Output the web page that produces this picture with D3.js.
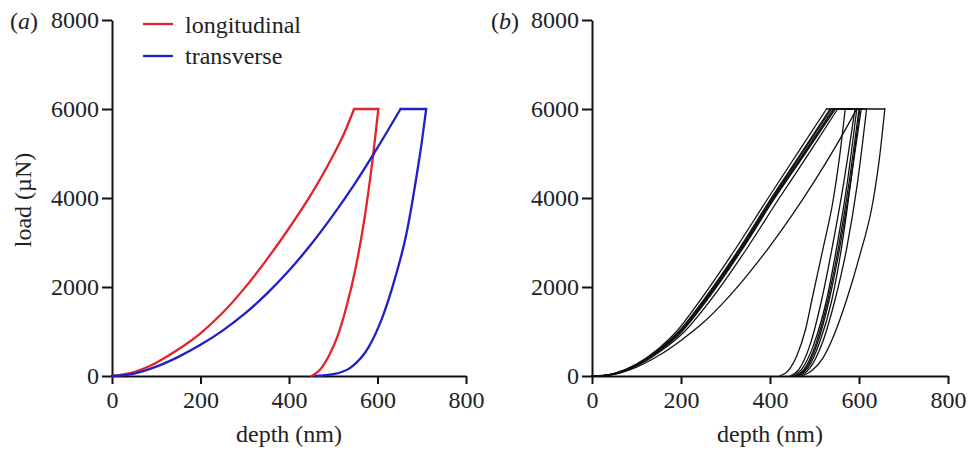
<!DOCTYPE html>
<html>
<head>
<meta charset="utf-8">
<script src="https://cdn.jsdelivr.net/npm/d3@7"></script>
<style>
  body { margin: 0; background: #fff; }
  svg text { font-family: "Liberation Serif", "Times New Roman", serif; fill: #222; }
  .axis path, .axis line { stroke: #111; stroke-width: 2; }
  .axis text { font-size: 24px; }
</style>
</head>
<body>
<script>
// axis ticks
var loadTicks = [0, 2000, 4000, 6000, 8000];
var depthTicks = [0, 200, 400, 600, 800];

// panel (a): [depth nm, load uN]; unloading listed from bottom to top
var longLoad = [[0,0],[50,90],[100,300],[150,600],[200,960],[250,1420],[300,1980],[350,2620],[400,3320],[450,4080],[500,4960],[525,5460],[547,6000]];
var longUnload = [[451,0],[470,140],[490,450],[510,900],[530,1560],[550,2400],[570,3500],[590,4950],[602,6000]];
var transLoad = [[0,0],[50,55],[100,210],[150,430],[200,700],[250,1020],[300,1400],[350,1850],[400,2370],[450,2960],[500,3620],[550,4340],[600,5130],[652,6000]];
var transUnload = [[460,0],[500,40],[540,195],[580,650],[610,1290],[640,2210],[665,3180],[690,4600],[700,5250],[710,6000]];

// panel (b): eight indents
var b1Load = [[0,0],[25,10],[50,60],[100,270],[150,620],[190,1000],[243,1700],[320,2820],[393,3955],[460,4980],[527,6000]];
var b1Unload = [[422,0],[440,110],[460,450],[480,1050],[494,1708],[520,2900],[542,3955],[556,4900],[569,6000]];
var b2Load = [[0,0],[25,8],[50,55],[100,255],[150,590],[195,1000],[250,1700],[328,2820],[400,3955],[468,4980],[535,6000]];
var b2Unload = [[445,0],[465,150],[490,700],[516,1708],[540,2900],[565,4300],[591,6000]];
var b3Load = [[0,0],[25,8],[50,50],[100,245],[150,570],[198,1000],[254,1700],[332,2820],[404,3955],[474,4980],[542,6000]];
var b3Unload = [[450,0],[472,160],[498,700],[527,1708],[550,2900],[573,4300],[595,6000]];
var b4Load = [[0,0],[25,6],[50,45],[100,235],[150,555],[202,1000],[258,1700],[336,2820],[408,3955],[478,4980],[547,6000]];
var b4Unload = [[460,0],[485,180],[511,740],[539,1708],[561,2900],[582,4400],[602,6000]];
var b5Load = [[0,0],[25,6],[50,45],[100,240],[150,560],[200,1000],[256,1700],[334,2820],[406,3955],[476,4980],[545,6000]];
var b5Unload = [[462,0],[488,160],[516,700],[546,1708],[572,2850],[596,4300],[617,6000]];
var b6Load = [[0,0],[25,5],[50,40],[100,225],[150,530],[208,1000],[266,1700],[345,2820],[418,3955],[486,4980],[552,6000]];
var b6Unload = [[458,0],[481,170],[506,720],[533,1708],[557,2900],[581,4350],[605,6000]];
var b7Load = [[0,0],[50,40],[100,200],[150,460],[200,800],[250,1200],[300,1700],[350,2280],[400,2920],[450,3620],[500,4380],[550,5200],[595,6000]];
var b7Unload = [[455,0],[478,170],[503,720],[530,1708],[554,2900],[577,4300],[600,6000]];
var b8Load = [[0,0],[25,8],[50,52],[100,250],[150,580],[196,1000],[252,1700],[330,2820],[402,3955],[470,4980],[538,6000]];
var b8Unload = [[470,0],[495,130],[520,420],[545,950],[572,1708],[600,2650],[632,3955],[646,4900],[658,6000]];

var panelBLoads = [b1Load, b2Load, b3Load, b4Load, b5Load, b6Load, b7Load, b8Load];
var panelBUnloads = [b1Unload, b2Unload, b3Unload, b4Unload, b5Unload, b6Unload, b7Unload, b8Unload];

var svg = d3.select("body").append("svg")
    .attr("width", 970)
    .attr("height", 450);

var yScale = d3.scaleLinear().domain([0, 8000]).range([376, 20]);
var xA = d3.scaleLinear().domain([0, 800]).range([112, 466]);
var xB = d3.scaleLinear().domain([0, 800]).range([592, 948]);

function drawAxes(x, label, labelX) {
    svg.append("g")
        .attr("class", "axis")
        .attr("transform", "translate(0,376)")
        .call(d3.axisBottom(x).tickValues(depthTicks).tickFormat(d3.format("d"))
            .tickSize(8).tickSizeOuter(0).tickPadding(7));
    svg.append("g")
        .attr("class", "axis")
        .attr("transform", "translate(" + x(0) + ",0)")
        .call(d3.axisLeft(yScale).tickValues(loadTicks).tickFormat(d3.format("d"))
            .tickSize(10).tickSizeOuter(0).tickPadding(3));
    svg.append("text")
        .attr("x", (x(0) + x(800)) / 2)
        .attr("y", 442)
        .attr("text-anchor", "middle")
        .attr("font-size", "24px")
        .text("depth (nm)");
    var t = svg.append("text")
        .attr("x", labelX)
        .attr("y", 29)
        .attr("font-size", "24px");
    t.append("tspan").text("(");
    t.append("tspan").attr("font-style", "italic").text(label);
    t.append("tspan").text(")");
}

function drawCurve(x, load, unload, colour, width) {
    var line = d3.line()
        .x(function(d) { return x(d[0]); })
        .y(function(d) { return yScale(d[1]); })
        .curve(d3.curveMonotoneX);
    var hold = [load[load.length - 1], unload[unload.length - 1]];
    [load, hold, unload].forEach(function(seg) {
        svg.append("path")
            .datum(seg)
            .attr("d", line)
            .attr("fill", "none")
            .attr("stroke", colour)
            .attr("stroke-width", width)
            .attr("stroke-linejoin", "round")
            .attr("stroke-linecap", "round");
    });
}

// panel a
drawAxes(xA, "a", 10);
drawCurve(xA, longLoad, longUnload, "#e3232b", 2.3);
drawCurve(xA, transLoad, transUnload, "#2020c8", 2.3);

svg.append("text")
    .attr("x", 31).attr("y", 200)
    .attr("transform", "rotate(-90,31,200)")
    .attr("text-anchor", "middle")
    .attr("font-size", "24px")
    .text("load (\u00b5N)");

// legend
var legendNames = ["longitudinal", "transverse"];
var legendColours = ["#e3232b", "#2020c8"];
legendNames.forEach(function(n, i) {
    svg.append("line")
        .attr("x1", 143).attr("x2", 173)
        .attr("y1", 24 + i * 32).attr("y2", 24 + i * 32)
        .attr("stroke", legendColours[i])
        .attr("stroke-width", 2.3);
    svg.append("text")
        .attr("x", 185).attr("y", 33 + i * 31)
        .attr("font-size", "24px")
        .text(n);
});

// panel b
drawAxes(xB, "b", 491);
panelBLoads.forEach(function(l, i) {
    drawCurve(xB, l, panelBUnloads[i], "#111", 1.3);
});
</script>
</body>
</html>
